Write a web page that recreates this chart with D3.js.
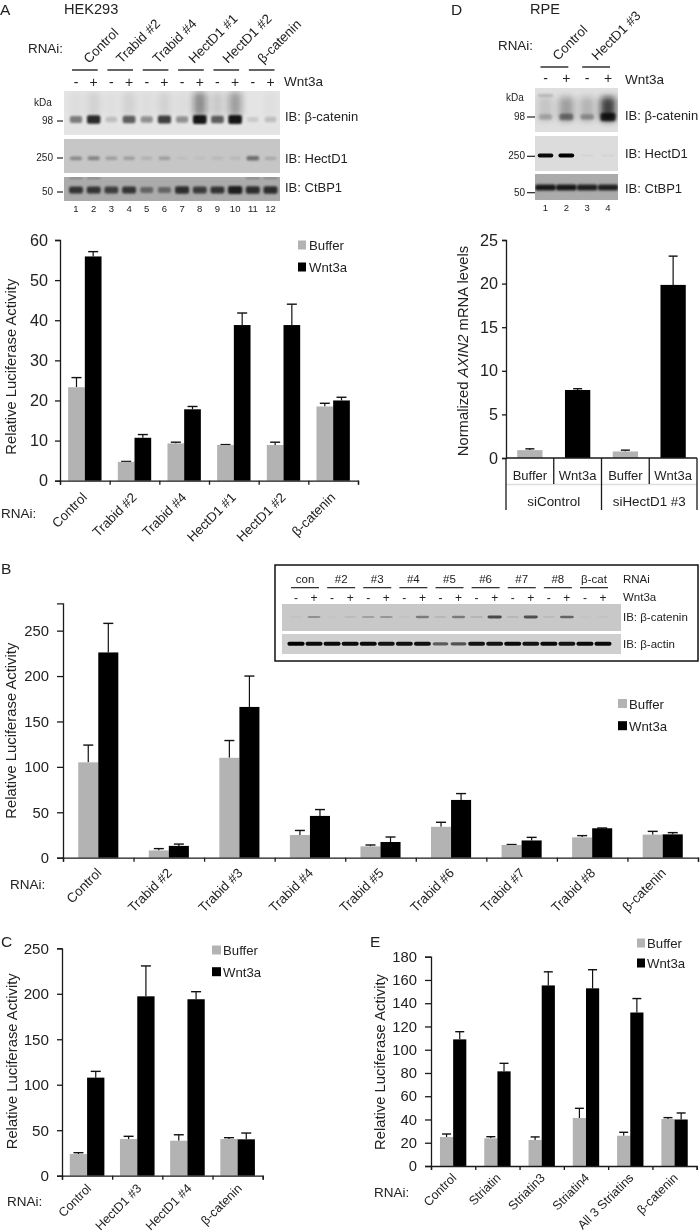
<!DOCTYPE html>
<html><head><meta charset="utf-8">
<script src="https://cdn.jsdelivr.net/npm/d3@7"></script>
<style>
html,body{margin:0;padding:0;background:#fff;}
svg{display:block;filter:blur(.35px);}
text{font-family:"Liberation Sans",Arial,sans-serif;fill:#222;}
</style></head><body><svg id="fig" width="700" height="1232"></svg>
<script>
// ---------- Panel A ----------
const aCats=["Control","Trabid #2","Trabid #4","HectD1 #1","HectD1 #2","β-catenin"];
const aBuffer=[23.3,4.7,9.3,8.9,8.9,18.5];
const aBufferTop=[25.7,4.8,9.6,9.0,9.6,19.3];
const aWnt=[55.9,10.7,17.8,38.8,38.8,20.0];
const aWntTop=[57.1,11.5,18.5,41.8,44.0,20.8];
const aTicks=[0,10,20,30,40,50,60];
// ---------- Panel B ----------
const bCats=["Control","Trabid #2","Trabid #3","Trabid #4","Trabid #5","Trabid #6","Trabid #7","Trabid #8","β-catenin"];
const bBuffer=[105,8,110,25,12.5,34,14,22.4,25.4];
const bBufferTop=[124,10,129,30,14,39,14.5,24.3,29];
const bWnt=[226,13,166,46,17.3,63.6,19,32.4,25.7];
const bWntTop=[258,15,200,53,22.8,70.6,22.4,32.7,27.6];
const bTicks=[0,50,100,150,200,250];
// ---------- Panel C ----------
const cCats=["Control","HectD1 #3","HectD1 #4","β-catenin"];
const cBuffer=[23.8,40.3,38.5,40.3];
const cBufferTop=[25.3,43.3,45,41.8];
const cWnt=[107.8,197.2,194,40];
const cWntTop=[114.7,230.6,202.3,46.9];
const cTicks=[0,50,100,150,200,250];
// ---------- Panel D ----------
const dCats=["Buffer","Wnt3a","Buffer ","Wnt3a "];
const dValues=[0.9,7.8,0.75,19.85];
const dTops=[1.05,7.95,0.9,23.15];
const dTicks=[0,5,10,15,20,25];
const dGroups=["siControl","siHectD1 #3"];
// ---------- Panel E ----------
const eCats=["Control","Striatin","Striatin3","Striatin4","All 3 Striatins","β-catenin"];
const eBuffer=[24.9,23.8,22.4,41.3,26,40.4];
const eBufferTop=[27.5,25.2,25,49.6,29,41.6];
const eWnt=[108.9,81.4,155.3,152.8,132,40];
const eWntTop=[115.5,88.3,167,168.8,144,45.6];
const eTicks=[0,20,40,60,80,100,120,140,160,180];
// ---------- Blot band densities (0..1) per lane ----------
const aLanes=d3.range(1,13);
const aCatBands=[.5,.9,.18,.65,.4,.8,.4,1,.65,1,.12,.18];
const aCatSmear=[.03,.08,.02,.08,.03,.08,.03,.4,.12,.32,0,.02];
const aHectBands=[.42,.45,.28,.28,.15,.28,.05,.05,.1,.1,.6,.2];
const aCtbpBands=[.85,.85,.78,.85,.5,.5,.9,.8,.85,1,.9,.9];
const aCtbpUpper=[.22,.22,0,0,0,0,0,0,0,0,.22,.22];
const dLanes=[1,2,3,4];
const dCatBands=[.2,.42,.28,.8];
const dCatUpper=[.22,0,0,0];
const dCatSmear=[.12,.3,.2,.75];
const dHectBands=[.95,1,.03,.03];
const dCtbpBands=[.9,.9,.85,.85];
const inLabels=["con","#2","#3","#4","#5","#6","#7","#8","β-cat"];
const inCatBands=[.05,.4,.02,.12,.28,.35,.04,.55,.15,.55,.18,.9,.15,.85,.12,.7,.03,.04];
const inActinBands=[1,.95,.95,.95,.95,.9,.92,.92,.55,.6,.9,.9,.95,.9,.95,.9,.95,.95];
const signs=["-","+"];
const legendLabels=["Buffer","Wnt3a"];
const seriesFill=["#b3b3b3","#000000"];

const svg=d3.select("#fig");
const defs=svg.append("defs");
[["b1",1.3],["b2",1.0],["b3",.7],["b4",3]].forEach(([id,s])=>{
  defs.append("filter").attr("id",id).attr("x","-60%").attr("y","-150%").attr("width","220%").attr("height","400%")
   .append("feGaussianBlur").attr("stdDeviation",s);
});

function T(x,y,s,size,opt={}){
  const t=svg.append("text").attr("x",x).attr("y",y).attr("font-size",size).text(s);
  if(opt.anchor)t.attr("text-anchor",opt.anchor);
  if(opt.rot!==undefined)t.attr("transform",`rotate(${opt.rot} ${x} ${y})`);
  return t;
}
function styleAxis(g){
  g.selectAll("path,line").attr("stroke","#1a1a1a").attr("stroke-width",1.3).attr("fill","none");
  g.selectAll("text").attr("fill","#222");
}
function groupedChart(o){
  const x0=d3.scaleBand().domain(o.cats).range([o.left,o.right]);
  const x1=d3.scaleBand().domain(legendLabels).range([0,x0.bandwidth()]).paddingInner(0).paddingOuter(o.pad);
  const y=d3.scaleLinear().domain([0,o.top]).range([o.y0,o.yTop]);
  const g=svg.append("g");
  const series=[[o.buffer,o.bufferTop],[o.wnt,o.wntTop]];
  series.forEach(([vals,tops],si)=>{
    const name=legendLabels[si];
    const sg=g.append("g");
    sg.selectAll("line.err").data(o.cats).join("line").attr("class","err")
      .attr("x1",c=>x0(c)+x1(name)+x1.bandwidth()/2).attr("x2",c=>x0(c)+x1(name)+x1.bandwidth()/2)
      .attr("y1",(c,i)=>y(vals[i])).attr("y2",(c,i)=>y(tops[i])).attr("stroke","#111").attr("stroke-width",1.2);
    sg.selectAll("line.cap").data(o.cats).join("line").attr("class","cap")
      .attr("x1",c=>x0(c)+x1(name)+x1.bandwidth()/2-o.cap).attr("x2",c=>x0(c)+x1(name)+x1.bandwidth()/2+o.cap)
      .attr("y1",(c,i)=>y(tops[i])).attr("y2",(c,i)=>y(tops[i])).attr("stroke","#111").attr("stroke-width",1.4);
    sg.selectAll("rect").data(o.cats).join("rect")
      .attr("x",c=>x0(c)+x1(name)).attr("width",x1.bandwidth())
      .attr("y",(c,i)=>y(vals[i])).attr("height",(c,i)=>o.y0-y(vals[i]))
      .attr("fill",seriesFill[si]);
  });
  const ay=g.append("g").attr("transform",`translate(${o.left},0)`)
    .call(d3.axisLeft(y).tickValues(o.ticks).tickSizeOuter(0).tickSize(o.tick).tickPadding(o.tickPad));
  ay.selectAll("text").attr("font-size",o.fs).attr("font-family",'"Liberation Sans",Arial,sans-serif');
  styleAxis(ay);
  const bx=d3.scaleLinear().domain([0,o.cats.length]).range([o.left,o.right]);
  const ax=g.append("g").attr("transform",`translate(0,${o.y0})`)
    .call(d3.axisBottom(bx).tickValues(d3.range(o.cats.length+1)).tickFormat("").tickSizeOuter(0).tickSize(4));
  styleAxis(ax);
  o.cats.forEach(c=>{
    const cx=x0(c)+x0.bandwidth()/2+o.ldx;
    T(cx,o.y0+o.ldy,c,o.lfs,{anchor:"end",rot:-45});
  });
  T(o.titleX,o.titleY,"Relative Luciferase Activity",14.8,{anchor:"middle",rot:-90});
  T(o.rnaX,o.rnaY,"RNAi:",13.5);
  legendLabels.forEach((l,i)=>{
    svg.append("rect").attr("x",o.legX).attr("y",o.legY[i]-4.5).attr("width",o.legW).attr("height",9).attr("fill",seriesFill[i]);
    T(o.legX+o.legW+o.legGap,o.legY[i]+5,l,13.2);
  });
}
groupedChart({cats:aCats,buffer:aBuffer,bufferTop:aBufferTop,wnt:aWnt,wntTop:aWntTop,ticks:aTicks,
  left:60,right:358,y0:480.7,yTop:240,top:60,pad:.488,cap:5,tick:5,tickPad:7,fs:16.2,lfs:13.3,ldx:3,ldy:17.5,
  titleX:16,titleY:366.7,rnaX:1,rnaY:518,legX:298,legY:[245,267],legW:8,legGap:3});
groupedChart({cats:bCats,buffer:bBuffer,bufferTop:bBufferTop,wnt:bWnt,wntTop:bWntTop,ticks:bTicks,
  left:63,right:698,y0:857.7,yTop:603.4,top:280,pad:.76,cap:5,tick:6,tickPad:8,fs:14.8,lfs:13.3,ldx:4,ldy:16,
  titleX:16,titleY:730.7,rnaX:10,rnaY:889,legX:618,legY:[703.5,725.7],legW:9,legGap:2});
groupedChart({cats:cCats,buffer:cBuffer,bufferTop:cBufferTop,wnt:cWnt,wntTop:cWntTop,ticks:cTicks,
  left:62,right:262.7,y0:1175.7,yTop:948.3,top:250,pad:.45,cap:5,tick:5,tickPad:8,fs:15.2,lfs:12.5,ldx:5,ldy:13.5,
  titleX:17,titleY:1061.3,rnaX:7,rnaY:1206,legX:212,legY:[950,971.7],legW:9,legGap:2});
groupedChart({cats:eCats,buffer:eBuffer,bufferTop:eBufferTop,wnt:eWnt,wntTop:eWntTop,ticks:eTicks,
  left:431,right:696.7,y0:1166,yTop:956.7,top:180,pad:.68,cap:4.5,tick:6,tickPad:8,fs:14.8,lfs:12.5,ldx:4,ldy:12.5,
  titleX:385,titleY:1062,rnaX:374,rnaY:1197,legX:637,legY:[943,963],legW:8,legGap:2});

// ---------- Panel D chart ----------
(function(){
  const left=506,right=697,y0=458,yTop=240;
  const x=d3.scaleBand().domain(dCats).range([left,right]).paddingInner(.47).paddingOuter(.235);
  const xb=d3.scaleLinear().domain([0,4]).range([left,right]);
  const y=d3.scaleLinear().domain([0,25]).range([y0,yTop]);
  const g=svg.append("g");
  g.selectAll("line.err").data(dCats).join("line").attr("class","err")
   .attr("x1",c=>x(c)+x.bandwidth()/2).attr("x2",c=>x(c)+x.bandwidth()/2)
   .attr("y1",(c,i)=>y(dValues[i])).attr("y2",(c,i)=>y(dTops[i])).attr("stroke","#111").attr("stroke-width",1.2);
  g.selectAll("line.cap").data(dCats).join("line").attr("class","cap")
   .attr("x1",c=>x(c)+x.bandwidth()/2-4.5).attr("x2",c=>x(c)+x.bandwidth()/2+4.5)
   .attr("y1",(c,i)=>y(dTops[i])).attr("y2",(c,i)=>y(dTops[i])).attr("stroke","#111").attr("stroke-width",1.4);
  g.selectAll("rect").data(dCats).join("rect")
   .attr("x",c=>x(c)).attr("width",x.bandwidth())
   .attr("y",(c,i)=>y(dValues[i])).attr("height",(c,i)=>y0-y(dValues[i]))
   .attr("fill",(c,i)=>seriesFill[i%2]);
  const ay=g.append("g").attr("transform",`translate(${left},0)`)
    .call(d3.axisLeft(y).tickValues(dTicks).tickSizeOuter(0).tickSize(4).tickPadding(4));
  ay.selectAll("text").attr("font-size",16.2).attr("font-family",'"Liberation Sans",Arial,sans-serif');
  styleAxis(ay);
  const line=(x1,y1,x2,y2,c="#1a1a1a")=>g.append("line").attr("x1",x1).attr("x2",x2).attr("y1",y1).attr("y2",y2).attr("stroke",c).attr("stroke-width",1.3);
  line(left,y0,right,y0);
  line(left,484.5,right,484.5,"#ddd");
  d3.range(5).forEach(i=>line(xb(i),y0,xb(i),i%2?484:510));
  dCats.forEach(c=>T(x(c)+x.bandwidth()/2,480,c.trim(),13,{anchor:"middle"}));
  dGroups.forEach((c,i)=>T(xb(2*i+1),505.7,c,13.4,{anchor:"middle"}));
  const tl=T(468,351,"",14.8,{anchor:"middle",rot:-90});
  tl.append("tspan").text("Normalized ");
  tl.append("tspan").attr("font-style","italic").text("AXIN2");
  tl.append("tspan").text(" mRNA levels");
})();

// ---------- Blots ----------
function blot(o){
  const g=svg.append("g");
  g.append("rect").attr("x",o.x).attr("y",o.y).attr("width",o.w).attr("height",o.h).attr("fill",o.bg);
  const clipId="c"+Math.round(o.x)+"_"+Math.round(o.y);
  defs.append("clipPath").attr("id",clipId).append("rect").attr("x",o.x).attr("y",o.y).attr("width",o.w).attr("height",o.h);
  const b=g.append("g").attr("clip-path",`url(#${clipId})`);
  if(o.smear){
    b.selectAll("rect.s").data(o.smear).join("rect").attr("class","s")
     .attr("x",(d,i)=>o.lane(i)-o.rx).attr("width",o.rx*2).attr("y",o.sy).attr("height",o.sh)
     .attr("rx",3).attr("fill","#111").attr("opacity",d=>d).attr("filter","url(#b4)");
  }
  if(o.upper){
    b.selectAll("rect.u").data(o.upper).join("rect").attr("class","u")
     .attr("x",(d,i)=>o.lane(i)-o.rx).attr("width",o.rx*2).attr("y",o.uy-1).attr("height",2)
     .attr("fill","#000").attr("opacity",d=>d).attr("filter","url(#b2)");
  }
  const w=d=>2*o.rx*(.85+.2*d), h=d=>2*o.ry*(.55+.6*d);
  b.selectAll("rect.b").data(o.bands).join("rect").attr("class","b")
   .attr("x",(d,i)=>o.lane(i)-w(d)/2).attr("width",w)
   .attr("y",d=>o.cy-h(d)/2).attr("height",h)
   .attr("rx",2).attr("fill","#000").attr("opacity",d=>Math.min(1,d*o.gain)).attr("filter",`url(#${o.blur})`);
}
function markers(items,right,dashX1,dashX2,fs){
  items.forEach(([lab,yy])=>{
    T(right,yy+3,lab,fs,{anchor:"end"});
    svg.append("line").attr("x1",dashX1).attr("x2",dashX2).attr("y1",yy).attr("y2",yy).attr("stroke","#222").attr("stroke-width",1.2);
  });
}
function signRow(lane,n,yBase,fs){
  d3.range(n).forEach(i=>T(lane(i),yBase,signs[i%2],fs,{anchor:"middle"}));
}
// Panel A
const laneA=d3.scaleLinear().domain([0,11]).range([76,270.5]);
blot({x:64,y:91,w:216,h:44,bg:"#e4e4e4",bands:aCatBands,smear:aCatSmear,sy:92,sh:24,lane:laneA,cy:119.5,rx:6.5,ry:4,gain:.9,blur:"b1"});
blot({x:64,y:139,w:216,h:34,bg:"#c6c6c6",bands:aHectBands,lane:laneA,cy:158.3,rx:6.5,ry:2.4,gain:.75,blur:"b1"});
blot({x:64,y:177,w:216,h:24,bg:"#ababab",bands:aCtbpBands,upper:aCtbpUpper,uy:178,lane:laneA,cy:190,rx:6.8,ry:3.4,gain:.82,blur:"b1"});
T(0,14.5,"A",15.5);T(64,14,"HEK293",14.6);T(28,52.7,"RNAi:",13.4);
const aStart=[86,118.5,155,191,225,260];
aCats.forEach((c,i)=>T(aStart[i]+3,64,c,13.3,{rot:-45}));
d3.range(6).forEach(i=>{const l=laneA(i*2)-4,r=laneA(i*2+1)+4;
  svg.append("line").attr("x1",l).attr("x2",r).attr("y1",70).attr("y2",70).attr("stroke","#111").attr("stroke-width",1.3);});
signRow(laneA,12,87,14);
T(284,86,"Wnt3a",13.5);
T(34,106,"kDa",10);
markers([["98",121],["250",158],["50",192]],53,57,63,10);
aLanes.forEach((n,i)=>T(laneA(i),211.7,n,9.5,{anchor:"middle"}));
T(285,120.7,"IB: β-catenin",13);T(285,162.7,"IB: HectD1",13);T(285,191.7,"IB: CtBP1",13);

// Panel D
const laneD=d3.scaleLinear().domain([0,3]).range([545.5,608]);
blot({x:535,y:88,w:83,h:44,bg:"#dfdfdf",bands:dCatBands,smear:dCatSmear,upper:dCatUpper,uy:95.5,sy:97,sh:24,lane:laneD,cy:117,rx:7.5,ry:4,gain:1,blur:"b1"});
blot({x:535,y:136,w:83,h:35,bg:"#dcdcdc",bands:dHectBands,lane:laneD,cy:155.5,rx:7.5,ry:1.7,gain:1,blur:"b3"});
blot({x:535,y:174,w:83,h:26,bg:"#ababab",bands:dCtbpBands,lane:laneD,cy:187.5,rx:10,ry:2.8,gain:.95,blur:"b2"});
T(451,14.5,"D",15.5);T(530,14,"RPE",14.6);T(498,50,"RNAi:",13.4);
T(558,61,"Control",13.3,{rot:-45});T(597,61,"HectD1 #3",13.3,{rot:-45});
[[0,1],[2,3]].forEach(([a,b])=>svg.append("line").attr("x1",laneD(a)-5).attr("x2",laneD(b)+2).attr("y1",67).attr("y2",67).attr("stroke","#111").attr("stroke-width",1.3));
signRow(laneD,4,83,14);
T(625,83.5,"Wnt3a",13.5);
T(506,100.7,"kDa",10);
markers([["98",117],["250",156.3],["50",192.7]],525,527,535,10);
dLanes.forEach((n,i)=>T(laneD(i),210.7,n,9.5,{anchor:"middle"}));
T(625,120,"IB: β-catenin",13);T(625,157.7,"IB: HectD1",13);T(625,193.3,"IB: CtBP1",13);

// Panel B inset
T(1,574,"B",15.5);T(1,947,"C",15.5);T(370,947,"E",15.5);
svg.append("rect").attr("x",275).attr("y",565).attr("width",423).attr("height",96).attr("fill","#fff").attr("stroke","#111").attr("stroke-width",1.5).lower();
const laneIn=d3.scaleLinear().domain([0,17]).range([296,603]);
blot({x:282,y:604,w:339,h:27,bg:"#c8c8c8",bands:inCatBands,lane:laneIn,cy:617,rx:7,ry:1.3,gain:.7,blur:"b3"});
blot({x:282,y:634,w:339,h:20,bg:"#cfcfcf",bands:inActinBands,lane:laneIn,cy:643.8,rx:8.2,ry:1.8,gain:1,blur:"b3"});
inLabels.forEach((l,i)=>{
  const cx=(laneIn(2*i)+laneIn(2*i+1))/2;
  T(cx,583.3,l,11.5,{anchor:"middle"});
  svg.append("line").attr("x1",cx-14).attr("x2",cx+14).attr("y1",587.7).attr("y2",587.7).attr("stroke","#111").attr("stroke-width",1.1);
});
signRow(laneIn,18,601.5,12);
T(623,583,"RNAi",11.5);T(623,601,"Wnt3a",11.5);T(623,621,"IB: β-catenin",11.5);T(623,647.6,"IB: β-actin",11.5);
</script></body></html>
